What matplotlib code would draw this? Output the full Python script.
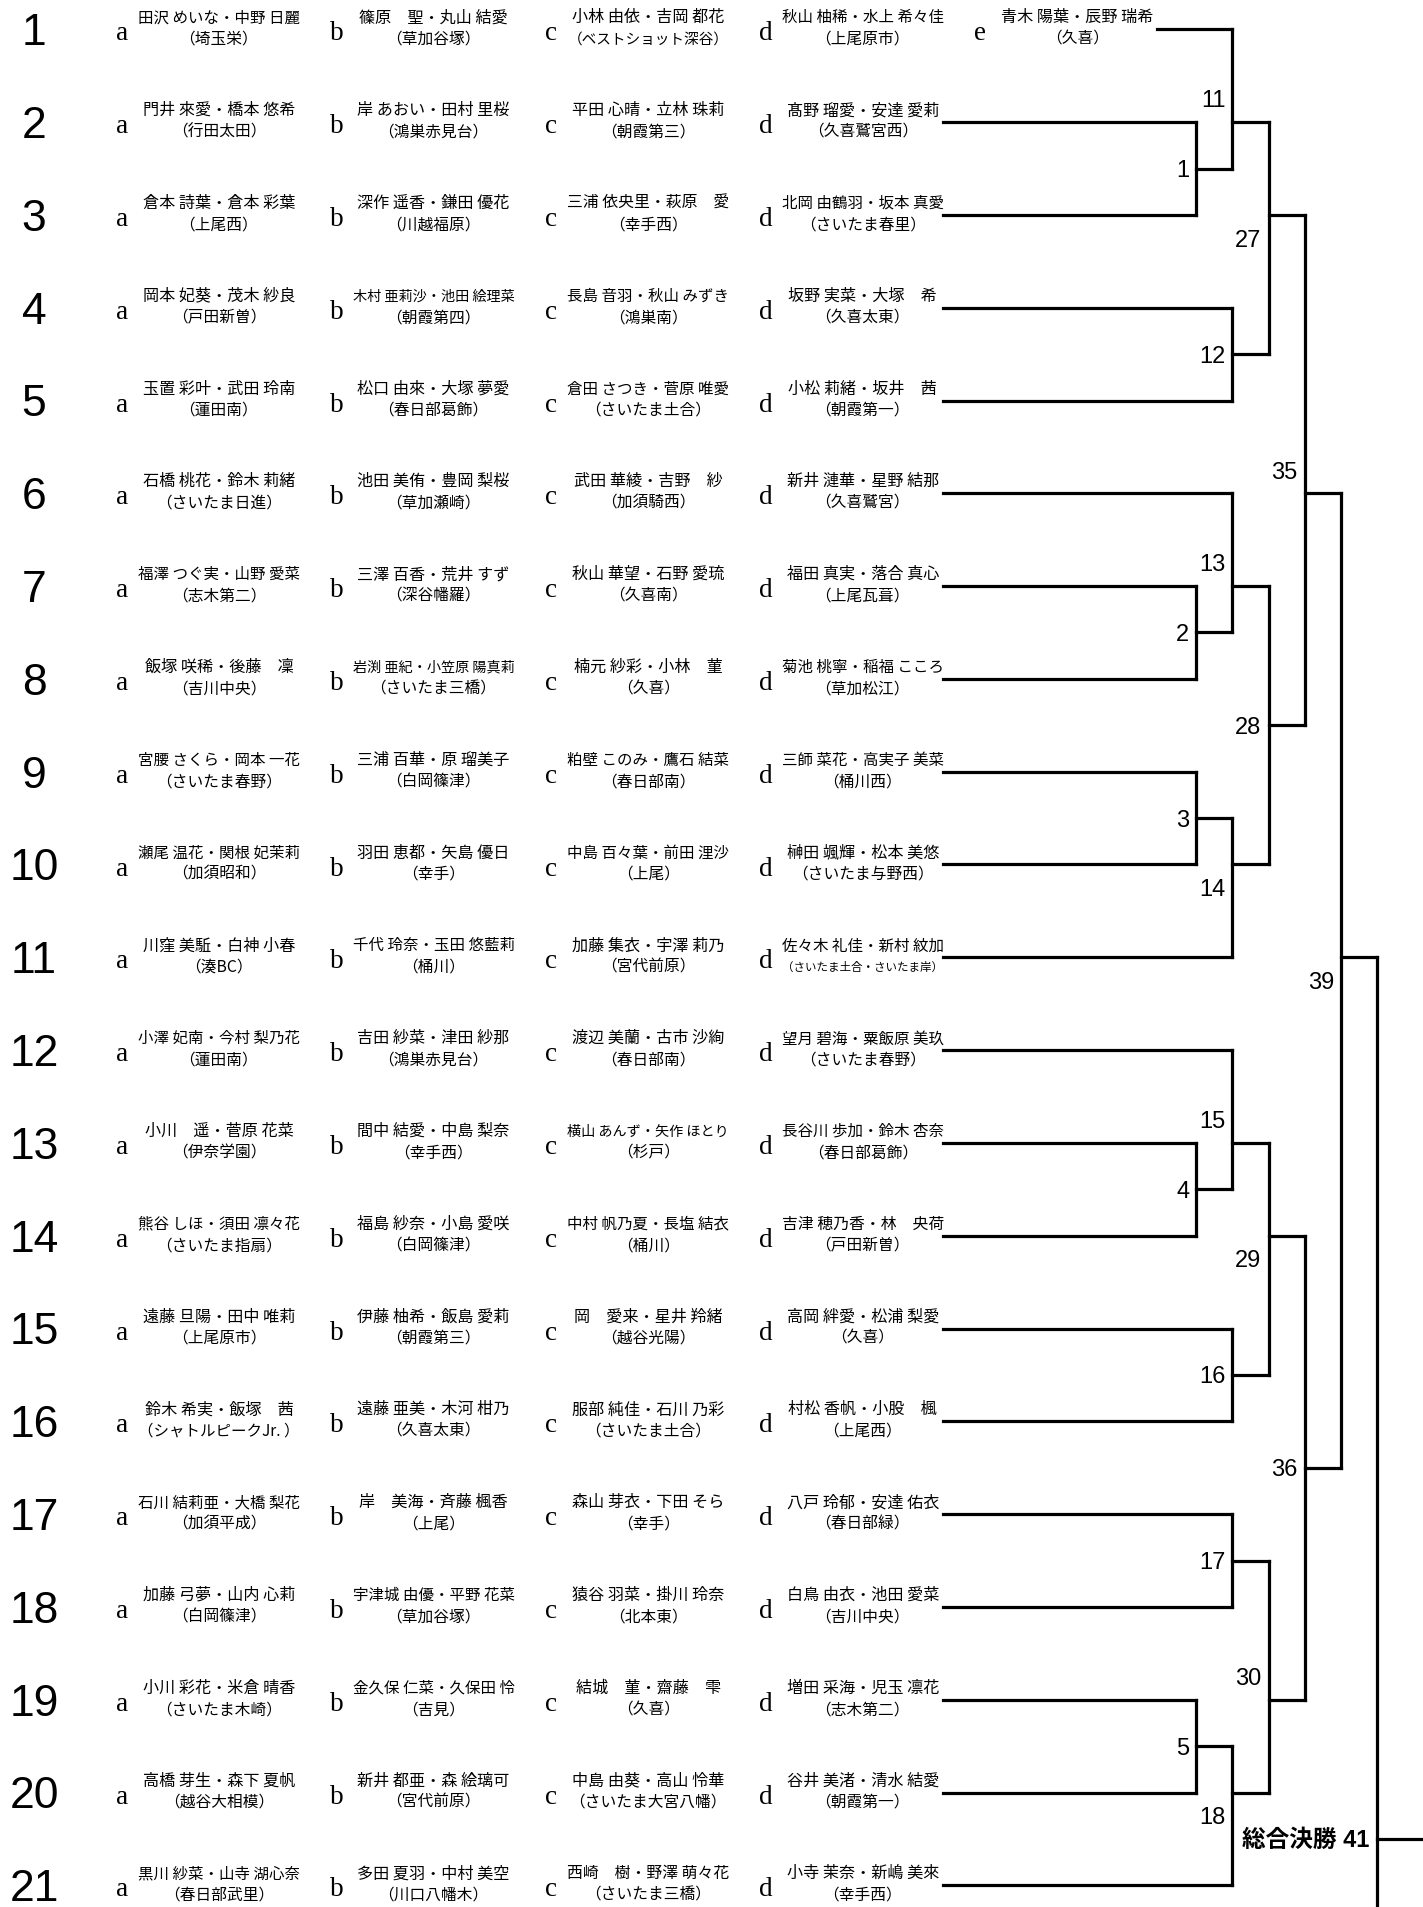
import matplotlib
matplotlib.use('Agg')
import matplotlib.pyplot as plt

# entries per draw column (a-d have 21 rows, e only row 1)
pairs_a = ['田沢 めいな・中野 日麗', '門井 來愛・橋本 悠希', '倉本 詩葉・倉本 彩葉', '岡本 妃葵・茂木 紗良',
           '玉置 彩叶・武田 玲南', '石橋 桃花・鈴木 莉緒', '福澤 つぐ実・山野 愛菜', '飯塚 咲稀・後藤　凜',
           '宮腰 さくら・岡本 一花', '瀬尾 温花・関根 妃茉莉', '川窪 美駈・白神 小春', '小澤 妃南・今村 梨乃花',
           '小川　遥・菅原 花菜', '熊谷 しほ・須田 凛々花', '遠藤 旦陽・田中 唯莉', '鈴木 希実・飯塚　茜',
           '石川 結莉亜・大橋 梨花', '加藤 弓夢・山内 心莉', '小川 彩花・米倉 晴香', '高橋 芽生・森下 夏帆',
           '黒川 紗菜・山寺 湖心奈']
clubs_a = ['埼玉栄', '行田太田', '上尾西', '戸田新曽', '蓮田南', 'さいたま日進', '志木第二', '吉川中央',
           'さいたま春野', '加須昭和', '湊BC', '蓮田南', '伊奈学園', 'さいたま指扇', '上尾原市',
           'シャトルピークJr. ', '加須平成', '白岡篠津', 'さいたま木崎', '越谷大相模', '春日部武里']

pairs_b = ['篠原　聖・丸山 結愛', '岸 あおい・田村 里桜', '深作 遥香・鎌田 優花', '木村 亜莉沙・池田 絵理菜',
           '松口 由來・大塚 夢愛', '池田 美侑・豊岡 梨桜', '三澤 百香・荒井 すず', '岩渕 亜紀・小笠原 陽真莉',
           '三浦 百華・原 瑠美子', '羽田 恵都・矢島 優日', '千代 玲奈・玉田 悠藍莉', '吉田 紗菜・津田 紗那',
           '間中 結愛・中島 梨奈', '福島 紗奈・小島 愛咲', '伊藤 柚希・飯島 愛莉', '遠藤 亜美・木河 柑乃',
           '岸　美海・斉藤 楓香', '宇津城 由優・平野 花菜', '金久保 仁菜・久保田 怜', '新井 都亜・森 絵璃可',
           '多田 夏羽・中村 美空']
clubs_b = ['草加谷塚', '鴻巣赤見台', '川越福原', '朝霞第四', '春日部葛飾', '草加瀬崎', '深谷幡羅', 'さいたま三橋',
           '白岡篠津', '幸手', '桶川', '鴻巣赤見台', '幸手西', '白岡篠津', '朝霞第三', '久喜太東', '上尾',
           '草加谷塚', '吉見', '宮代前原', '川口八幡木']

pairs_c = ['小林 由依・吉岡 都花', '平田 心晴・立林 珠莉', '三浦 依央里・萩原　愛', '長島 音羽・秋山 みずき',
           '倉田 さつき・菅原 唯愛', '武田 華綾・吉野　紗', '秋山 華望・石野 愛琉', '楠元 紗彩・小林　菫',
           '粕壁 このみ・鷹石 結菜', '中島 百々葉・前田 浬沙', '加藤 集衣・宇澤 莉乃', '渡辺 美蘭・古市 沙絢',
           '横山 あんず・矢作 ほとり', '中村 帆乃夏・長塩 結衣', '岡　愛来・星井 羚緒', '服部 純佳・石川 乃彩',
           '森山 芽衣・下田 そら', '猿谷 羽菜・掛川 玲奈', '結城　菫・齋藤　雫', '中島 由葵・高山 怜華',
           '西崎　樹・野澤 萌々花']
clubs_c = ['ベストショット深谷', '朝霞第三', '幸手西', '鴻巣南', 'さいたま土合', '加須騎西', '久喜南', '久喜',
           '春日部南', '上尾', '宮代前原', '春日部南', '杉戸', '桶川', '越谷光陽', 'さいたま土合', '幸手',
           '北本東', '久喜', 'さいたま大宮八幡', 'さいたま三橋']

pairs_d = ['秋山 柚稀・水上 希々佳', '髙野 瑠愛・安達 愛莉', '北岡 由鶴羽・坂本 真愛', '坂野 実菜・大塚　希',
           '小松 莉緒・坂井　茜', '新井 漣華・星野 結那', '福田 真実・落合 真心', '菊池 桃寧・稲福 こころ',
           '三師 菜花・高実子 美菜', '榊田 颯輝・松本 美悠', '佐々木 礼佳・新村 紋加', '望月 碧海・粟飯原 美玖',
           '長谷川 歩加・鈴木 杏奈', '吉津 穂乃香・林　央荷', '高岡 絆愛・松浦 梨愛', '村松 香帆・小股　楓',
           '八戸 玲郁・安達 佑衣', '白鳥 由衣・池田 愛菜', '増田 采海・児玉 凛花', '谷井 美渚・清水 結愛',
           '小寺 茉奈・新嶋 美來']
clubs_d = ['上尾原市', '久喜鷲宮西', 'さいたま春里', '久喜太東', '朝霞第一', '久喜鷲宮', '上尾瓦葺', '草加松江',
           '桶川西', 'さいたま与野西', 'さいたま土合・さいたま岸', 'さいたま春野', '春日部葛飾', '戸田新曽',
           '久喜', '上尾西', '春日部緑', '吉川中央', '志木第二', '朝霞第一', '幸手西']

pairs_e = ['青木 陽葉・辰野 瑞希']
clubs_e = ['久喜']

# bracket: (match no, upper, lower); 'rN' = row N, 'mN' = winner of match N
# 'r30' stands for the winner coming from the other half (next page)
round1 = [(1, 'r2', 'r3'), (2, 'r7', 'r8'), (3, 'r9', 'r10'), (4, 'r13', 'r14'), (5, 'r19', 'r20')]
round2 = [(11, 'r1', 'm1'), (12, 'r4', 'r5'), (13, 'r6', 'm2'), (14, 'm3', 'r11'),
          (15, 'r12', 'm4'), (16, 'r15', 'r16'), (17, 'r17', 'r18'), (18, 'm5', 'r21')]
round3 = [(27, 'm11', 'm12'), (28, 'm13', 'm14'), (29, 'm15', 'm16'), (30, 'm17', 'm18')]
round4 = [(35, 'm27', 'm28'), (36, 'm29', 'm30')]
round5 = [(39, 'm35', 'm36')]
round6 = [(41, 'm39', 'r30')]
final_title = '総合決勝'

# ---- layout (pixels) ----
W, H = 1423, 1907
ROW0, ROW_H = 29.3, 92.8
COL0, COL_W = 219, 214.6
TEXT_MAXW = 162
LEVEL0, LEVEL_W = 1160, 36.2
LW = 2.3

CJK = ['Noto Sans CJK JP', 'DejaVu Sans']
SANS = ['Liberation Sans', 'DejaVu Sans']
SANS_CJK = ['Liberation Sans', 'Noto Sans CJK JP', 'DejaVu Sans']

fig = plt.figure(figsize=(W / 100, H / 100), dpi=100)
ax = fig.add_axes([0, 0, 1, 1])
ax.set_xlim(0, W)
ax.set_ylim(H, 0)
ax.set_axis_off()
renderer = fig.canvas.get_renderer()


def row_y(r):
    return ROW0 + (r - 1) * ROW_H


def fit_text(x, y, s, size):
    # shrink long entries so they stay inside their column, like the sheet does
    t = ax.text(x, y, s, fontsize=size, family=CJK, ha='center', va='center')
    w = t.get_window_extent(renderer).width
    if w > TEXT_MAXW:
        t.set_fontsize(size * TEXT_MAXW / w)
    return t


columns = [(pairs_a, clubs_a), (pairs_b, clubs_b), (pairs_c, clubs_c),
           (pairs_d, clubs_d), (pairs_e, clubs_e)]
letters = 'abcde'
n_rows = len(pairs_a)

# row numbers
for r in range(1, n_rows + 1):
    ax.text(34, row_y(r) + 16, str(r), fontsize=32, family=SANS,
            ha='center', va='baseline')

# entries
for j, (pairs, clubs) in enumerate(columns):
    x = COL0 + j * COL_W
    for i, (p, c) in enumerate(zip(pairs, clubs)):
        y = row_y(i + 1)
        ax.text(x - 97, y + 11, letters[j], fontsize=19.5, family='Liberation Serif',
                ha='center', va='baseline')
        fit_text(x, y - 11.5, p, 11.6)
        fit_text(x, y + 10, '（' + c + '）', 11.3)


def entry_x(r):
    last = 4 if r <= len(pairs_e) else 3
    return COL0 + last * COL_W + 80


def line(xs, ys):
    ax.plot(xs, ys, color='k', lw=LW, solid_capstyle='projecting')


out_row = {}
level_of = {}
rounds = [round1, round2, round3, round4, round5, round6]
label_pt = 17
label_em = label_pt * 100 / 72
for level, matches in enumerate(rounds, start=1):
    xv = LEVEL0 + level * LEVEL_W
    for no, s1, s2 in matches:
        rows = []
        for s in (s1, s2):
            n = int(s[1:])
            if s[0] == 'r':
                r, x0 = n, entry_x(n)
            else:
                r, x0 = out_row[n], LEVEL0 + level_of[n] * LEVEL_W
            line([x0, xv], [row_y(r), row_y(r)])
            rows.append(r)
        line([xv, xv], [row_y(rows[0]), row_y(rows[1])])
        mid = (rows[0] + rows[1]) / 2
        out_row[no] = mid if (2 * mid).is_integer() else round(mid)
        level_of[no] = level
        if level == len(rounds):
            ax.text(xv - 8, row_y(mid) + 0.36 * label_em, f'{final_title} {no}',
                    fontsize=label_pt, family=SANS_CJK, weight='bold',
                    ha='right', va='baseline')
            line([xv, W], [row_y(out_row[no])] * 2)
        else:
            ax.text(xv - 7, row_y(mid) + 0.36 * label_em, str(no),
                    fontsize=label_pt, family=SANS, ha='right', va='baseline')

fig.savefig('out.png', dpi=100)
